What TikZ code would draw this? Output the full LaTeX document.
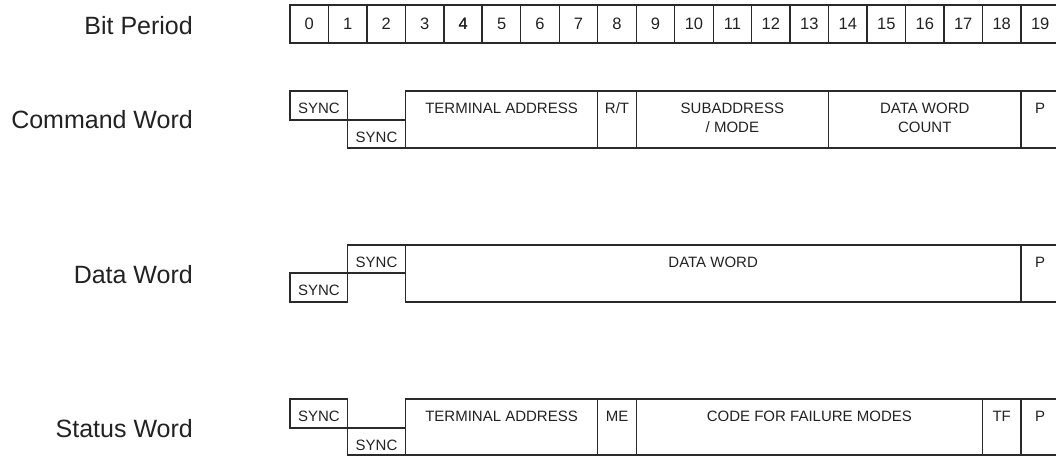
\documentclass[tikz,border=0pt]{standalone}
\usepackage{fontspec}
\setmainfont{Liberation Sans}
\definecolor{lc}{HTML}{2A2A2A}
\definecolor{tc}{HTML}{222222}
\begin{document}
\begin{tikzpicture}[x=1pt,y=-1pt,
  cell/.style={draw=lc, line width=1.3pt, rectangle, inner sep=0pt, outer sep=0pt, anchor=north west},
  bitcell/.style={cell, minimum width=38.47pt, minimum height=38pt, font=\fontsize{16.5}{18}\selectfont, text=tc},
  boxtxt/.style={font=\fontsize{15}{19}\selectfont, text=tc, anchor=north, align=center, inner sep=0pt, yshift=-11.6pt},
  rowlbl/.style={font=\fontsize{25}{30}\selectfont, text=tc, anchor=base east, inner sep=0pt}]
\def\W{38.47}
\useasboundingbox (0,0) rectangle (1056,456);
% row labels
\node[rowlbl] (lbit) at (193,34) {Bit Period};
\node[rowlbl] (lcmd) at (193,128) {Command Word};
\node[rowlbl] (ldat) at (193,283) {Data Word};
\node[rowlbl] (lsta) at (193,437) {Status Word};
% bit period
\foreach \i in {0,...,19}{
  \node[bitcell] (b\i) at ({290+\i*\W},5) {\i};
}
\node[bitcell, line width=2.2pt] (b4x) at ({290+4*\W},5) {4};
% command word
\node[cell, minimum width={1.5*\W*1pt}, minimum height=29pt] (cs1) at (290,91) {};
\node[boxtxt] (cs1t) at (cs1.north) {SYNC};
\node[cell, minimum width={1.5*\W*1pt}, minimum height=28pt] (cs2) at ({290+1.5*\W},120) {};
\node[boxtxt] (cs2t) at (cs2.north) {SYNC};
\node[cell, minimum width={5*\W*1pt}, minimum height=57pt] (cta) at ({290+3*\W},91) {};
\node[boxtxt] (ctat) at (cta.north) {TERMINAL ADDRESS};
\node[cell, minimum width={\W*1pt}, minimum height=57pt] (crt) at ({290+8*\W},91) {};
\node[boxtxt] (crtt) at (crt.north) {R/T};
\node[cell, minimum width={5*\W*1pt}, minimum height=57pt] (csa) at ({290+9*\W},91) {};
\node[boxtxt] (csat) at (csa.north) {SUBADDRESS\\/ MODE};
\node[cell, minimum width={5*\W*1pt}, minimum height=57pt] (cdc) at ({290+14*\W},91) {};
\node[boxtxt] (cdct) at (cdc.north) {DATA WORD\\COUNT};
\node[cell, minimum width={\W*1pt}, minimum height=57pt] (cp) at ({290+19*\W},91) {};
\node[boxtxt] (cpt) at (cp.north) {P};
% data word
\node[cell, minimum width={1.5*\W*1pt}, minimum height=29pt] (ds1) at (290,273) {};
\node[boxtxt] (ds1t) at (ds1.north) {SYNC};
\node[cell, minimum width={1.5*\W*1pt}, minimum height=28pt] (ds2) at ({290+1.5*\W},245) {};
\node[boxtxt] (ds2t) at (ds2.north) {SYNC};
\node[cell, minimum width={16*\W*1pt}, minimum height=57pt] (ddw) at ({290+3*\W},245) {};
\node[boxtxt] (ddwt) at (ddw.north) {DATA WORD};
\node[cell, minimum width={\W*1pt}, minimum height=57pt] (dp) at ({290+19*\W},245) {};
\node[boxtxt] (dpt) at (dp.north) {P};
% status word
\node[cell, minimum width={1.5*\W*1pt}, minimum height=29pt] (ss1) at (290,399) {};
\node[boxtxt] (ss1t) at (ss1.north) {SYNC};
\node[cell, minimum width={1.5*\W*1pt}, minimum height=27pt] (ss2) at ({290+1.5*\W},428) {};
\node[boxtxt] (ss2t) at (ss2.north) {SYNC};
\node[cell, minimum width={5*\W*1pt}, minimum height=56pt] (sta) at ({290+3*\W},399) {};
\node[boxtxt] (stat) at (sta.north) {TERMINAL ADDRESS};
\node[cell, minimum width={\W*1pt}, minimum height=56pt] (sme) at ({290+8*\W},399) {};
\node[boxtxt] (smet) at (sme.north) {ME};
\node[cell, minimum width={9*\W*1pt}, minimum height=56pt] (scf) at ({290+9*\W},399) {};
\node[boxtxt] (scft) at (scf.north) {CODE FOR FAILURE MODES};
\node[cell, minimum width={\W*1pt}, minimum height=56pt] (stf) at ({290+18*\W},399) {};
\node[boxtxt] (stft) at (stf.north) {TF};
\node[cell, minimum width={\W*1pt}, minimum height=56pt] (sp) at ({290+19*\W},399) {};
\node[boxtxt] (spt) at (sp.north) {P};
\end{tikzpicture}
\end{document}
